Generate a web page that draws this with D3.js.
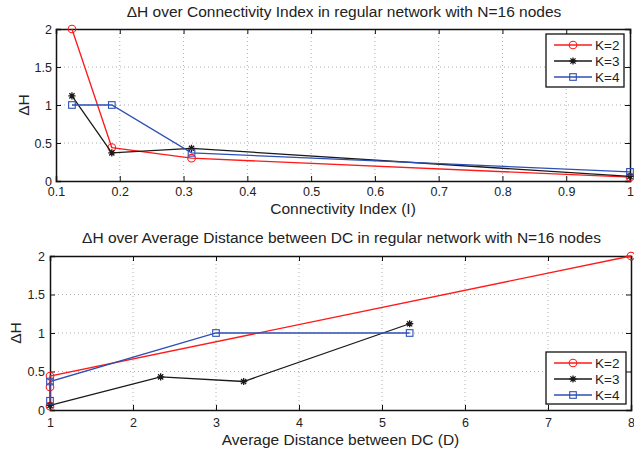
<!DOCTYPE html>
<html><head><meta charset="utf-8">
<script src="https://cdn.jsdelivr.net/npm/d3@7"></script>
<style>body{margin:0;background:#fff}svg{display:block;font-family:"Liberation Sans",Arial,sans-serif}</style>
</head><body>
<svg id="c" width="634" height="453"></svg>
<script>
// Top chart data: Connectivity Index (I)
const topX = [0.125, 0.1875, 0.3125, 1.0];
const topK2 = [2.0, 0.44, 0.30, 0.05];
const topK3 = [1.12, 0.37, 0.43, 0.06];
const topK4 = [1.0, 1.0, 0.37, 0.12];
// Bottom chart data: Average Distance between DC (D)
const botK2x = [8, 1, 1, 1];
const botK2y = [2.0, 0.44, 0.30, 0.05];
const botK3x = [5.333, 3.333, 2.333, 1];
const botK3y = [1.12, 0.37, 0.43, 0.06];
const botK4x = [5.333, 3, 1, 1];
const botK4y = [1.0, 1.0, 0.37, 0.12];
const topXTicks = [0.1,0.2,0.3,0.4,0.5,0.6,0.7,0.8,0.9,1];
const botXTicks = [1,2,3,4,5,6,7,8];
const yTicks = [0,0.5,1,1.5,2];
const seriesNames = ["K=2","K=3","K=4"];
const colors = ["#ff1a1a","#1a1a1a","#2d4fb5"];
const markers = ["circle","star","square"];

const svg = d3.select("#c");

function drawMarker(g, type, x, y, color){
  if(type==="circle"){
    g.append("circle").attr("cx",x).attr("cy",y).attr("r",3.8)
      .attr("fill","none").attr("stroke",color).attr("stroke-width",1.1);
  } else if(type==="square"){
    g.append("rect").attr("x",x-3.3).attr("y",y-3.3).attr("width",6.6).attr("height",6.6)
      .attr("fill","none").attr("stroke",color).attr("stroke-width",1.1);
  } else {
    const s=3.6;
    const p = `M${x-s},${y}L${x+s},${y}M${x},${y-s}L${x},${y+s}M${x-s*0.72},${y-s*0.72}L${x+s*0.72},${y+s*0.72}M${x-s*0.72},${y+s*0.72}L${x+s*0.72},${y-s*0.72}`;
    g.append("path").attr("d",p).attr("stroke",color).attr("stroke-width",1.3).attr("fill","none");
  }
}

function chart(o){
  const g = svg.append("g");
  const x = d3.scaleLinear().domain(o.xDomain).range([o.left,o.right]);
  const y = d3.scaleLinear().domain([0,2]).range([o.bottom,o.top]);
  // grid
  const grid = g.append("g").attr("stroke","#9a9a9a").attr("stroke-width",0.8).attr("stroke-dasharray","1,3");
  o.xTicks.forEach(t=>{ if(t!==o.xDomain[0] && t!==o.xDomain[1]) grid.append("line").attr("x1",x(t)).attr("x2",x(t)).attr("y1",o.top).attr("y2",o.bottom);});
  yTicks.forEach(t=>{ if(t!==0 && t!==2) grid.append("line").attr("y1",y(t)).attr("y2",y(t)).attr("x1",o.left).attr("x2",o.right);});
  // axes with inward ticks
  const ax = g.append("g").attr("transform",`translate(0,${o.bottom})`)
    .call(d3.axisBottom(x).tickValues(o.xTicks).tickSize(-5).tickPadding(o.xPad).tickFormat(d=>String(+d.toFixed(2))));
  const axT = g.append("g").attr("transform",`translate(0,${o.top})`)
    .call(d3.axisTop(x).tickValues(o.xTicks).tickSize(-5).tickFormat(""));
  const ay = g.append("g").attr("transform",`translate(${o.left},0)`)
    .call(d3.axisLeft(y).tickValues(yTicks).tickSize(-5).tickPadding(o.yPad).tickFormat(d=>String(d)));
  const ayR = g.append("g").attr("transform",`translate(${o.right},0)`)
    .call(d3.axisRight(y).tickValues(yTicks).tickSize(-5).tickFormat(""));
  [ax,axT,ay,ayR].forEach(a=>{
    a.select(".domain").attr("stroke","#111").attr("stroke-width",1.5);
    a.selectAll(".tick line").attr("stroke","#111").attr("stroke-width",1);
    a.selectAll("text").attr("font-size",12.5).attr("fill","#222").attr("font-family","Liberation Sans, Arial, sans-serif");
  });
  // series
  const line = d3.line().x(d=>x(d[0])).y(d=>y(d[1]));
  o.series.forEach((s,i)=>{
    const pts = s.xs.map((v,j)=>[v,s.ys[j]]);
    g.append("path").attr("d",line(pts)).attr("fill","none").attr("stroke",colors[i]).attr("stroke-width",1.3);
    pts.forEach(p=>drawMarker(g,markers[i],x(p[0]),y(p[1]),colors[i]));
  });
  // title and labels
  g.append("text").attr("x",(o.left+o.right)/2+1).attr("y",o.titleY).attr("text-anchor","middle")
    .attr("font-size",15.5).attr("fill","#222").text(o.title);
  g.append("text").attr("x",(o.left+o.right)/2).attr("y",o.xlabelY).attr("text-anchor","middle")
    .attr("font-size",15.5).attr("fill","#222").text(o.xlabel);
  g.append("text").attr("transform",`translate(${o.ylabelX},${(o.top+o.bottom)/2}) rotate(-90)`)
    .attr("text-anchor","middle").attr("font-size",15.5).attr("fill","#222").text("ΔH");
  // legend
  const L = o.legend;
  g.append("rect").attr("x",L.x).attr("y",L.y).attr("width",L.w).attr("height",L.h)
    .attr("fill","#fff").attr("stroke","#111").attr("stroke-width",1.3);
  seriesNames.forEach((n,i)=>{
    const cy = L.y + 11 + i*16;
    g.append("line").attr("x1",L.x+8).attr("x2",L.x+46).attr("y1",cy).attr("y2",cy)
      .attr("stroke",colors[i]).attr("stroke-width",1.3);
    drawMarker(g,markers[i],L.x+27,cy,colors[i]);
    g.append("text").attr("x",L.x+49).attr("y",cy+5).attr("font-size",13.5).attr("fill","#222").text(n);
  });
}

chart({left:56,right:630,top:29,bottom:181,xDomain:[0.1,1],xTicks:topXTicks,xPad:6,yPad:4,
  series:[{xs:topX,ys:topK2},{xs:topX,ys:topK3},{xs:topX,ys:topK4}],
  title:"ΔH over Connectivity Index in regular network with N=16 nodes",titleY:17,
  xlabel:"Connectivity Index (I)",xlabelY:213.5,ylabelX:28.5,
  legend:{x:546,y:34,w:78,h:53}});

chart({left:50,right:631,top:256,bottom:410,xDomain:[1,8],xTicks:botXTicks,xPad:8,yPad:5,
  series:[{xs:botK2x,ys:botK2y},{xs:botK3x,ys:botK3y},{xs:botK4x,ys:botK4y}],
  title:"ΔH over Average Distance between DC in regular network with N=16 nodes",titleY:243,
  xlabel:"Average Distance between DC (D)",xlabelY:444.5,ylabelX:20.5,
  legend:{x:546,y:352,w:80,h:52}});
</script>
</body></html>
